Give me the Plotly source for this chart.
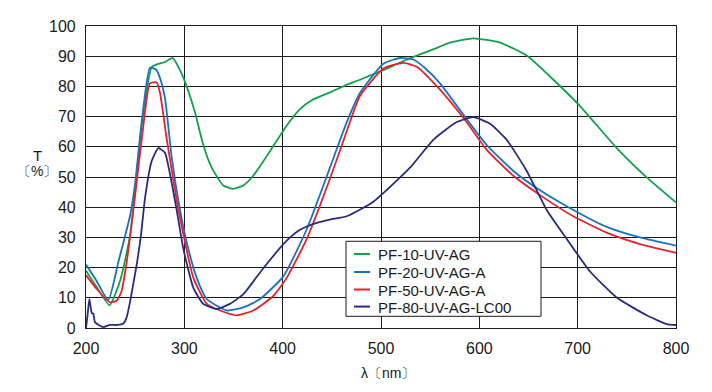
import plotly.graph_objects as go

# Wavelength (nm) and transmittance (%)
green_x = [200, 210, 224, 235, 245, 256.6, 266.8, 273.6, 280, 288.2, 295.6, 302.4, 310.8, 319.3, 327.8, 339.6, 349.8, 360, 370, 387, 404, 417.6, 430, 448, 465, 478.6, 502.4, 520, 536.3, 555, 570.2, 593.9, 621, 648.2, 675.3, 702.4, 739.7, 770.2, 800]
green_y = [19, 14, 7.5, 16, 31, 67, 86.4, 87.5, 88, 89.4, 85.4, 80, 71.4, 60.6, 53.1, 47.2, 46.1, 47.2, 50.4, 58.5, 67, 72.5, 75.5, 78, 80.5, 82.2, 85.4, 88, 90.2, 92.5, 94.5, 95.9, 94.5, 90.2, 82.2, 73.5, 59.6, 49.9, 41.6]

blue_x = [200, 210, 222.7, 233, 244.7, 250, 256.6, 265, 271.2, 275, 280.3, 287.2, 295.6, 302.4, 312.6, 322.8, 343.1, 360, 377, 400.7, 424.5, 448.1, 465, 478.6, 502.4, 519.3, 532.9, 545, 560, 587, 607.5, 634.6, 661.7, 695.6, 729.5, 763.4, 800]
blue_y = [21, 16, 9.3, 22, 37, 48, 68.2, 86.2, 85.6, 83, 76.2, 56.4, 39.1, 28.4, 16.6, 9.6, 5.8, 6.8, 9.6, 17.1, 32.7, 53.1, 68, 77.8, 87.5, 89.4, 88.9, 86, 81, 69.2, 60.6, 52, 45.6, 39.1, 33.5, 30, 27.3]

red_x = [200, 212, 224.4, 231, 236, 241.4, 249.8, 258.3, 265, 271.9, 275.3, 282, 292.2, 300.7, 309.2, 322.8, 336.3, 353.3, 370.2, 390.5, 404.1, 424.5, 448.1, 465, 478.6, 502.4, 522.7, 536.3, 560, 587, 607.5, 634.6, 661.7, 695.6, 729.5, 763.4, 800]
red_y = [17.5, 12.5, 8.5, 9, 12, 21.9, 43.4, 67, 81, 81.3, 77.8, 62.8, 42.4, 28.4, 16.6, 8, 5.8, 4.2, 5.8, 10.6, 16.6, 29.5, 49.4, 65, 76.8, 85.9, 87.8, 86.5, 78.9, 68.2, 59, 50.4, 44, 37, 31.6, 27.8, 24.9]

navy_x = [200, 201.5, 203.4, 205.8, 207.5, 209, 213, 217.6, 224.4, 232, 238, 241.4, 244.7, 251.5, 256, 260, 266.8, 273.6, 280.3, 285.4, 292.2, 299, 309.2, 319.3, 332.9, 346.4, 360, 380.3, 404.1, 417.6, 434.6, 448.1, 465.1, 492.2, 529.5, 553.2, 577, 594, 610.9, 627.9, 648.2, 668.5, 688.9, 712.6, 739.7, 770.2, 790.5, 800]
navy_y = [0, 4, 9.6, 5, 4.7, 2, 1, 0.3, 1, 1, 1.5, 3.6, 8.5, 20.9, 31, 43, 55.3, 59.6, 58, 51, 39.1, 26.2, 13.3, 8, 6.3, 8, 11.2, 19.8, 28.9, 32.5, 34.8, 35.9, 37, 41.8, 53.1, 62.3, 68.2, 69.8, 67.6, 62.3, 52, 39.1, 29.5, 18.7, 10.1, 4.2, 1.3, 1]

series_names = ["PF-10-UV-AG", "PF-20-UV-AG-A", "PF-50-UV-AG-A", "PF-80-UV-AG-LC00"]
series_colors = ["#13a04a", "#1673c4", "#e8202a", "#2c2a80"]
x_ticks = [200, 300, 400, 500, 600, 700, 800]
y_ticks = [0, 10, 20, 30, 40, 50, 60, 70, 80, 90, 100]

FONT = "Liberation Sans, Arial, sans-serif"
INK = "#1a1a1a"

# plot area on screen; the page body adds an 8px offset
OFF = 8
W, H = 712 - OFF, 392 - OFF
PL, PR, PT, PB = 86, 676, 18, 328
def px(x):
    return (x - PL) / (PR - PL)
def py(y):
    return (PB - y) / (PB - PT)

fig = go.Figure()
for name, color, xs, ys in zip(series_names, series_colors,
                               [green_x, blue_x, red_x, navy_x],
                               [green_y, blue_y, red_y, navy_y]):
    fig.add_trace(go.Scatter(x=xs, y=ys, mode="lines", name=name,
                             line=dict(color=color, width=1.8, shape="spline", smoothing=0.5),
                             showlegend=False))

shapes = [dict(type="rect", xref="paper", yref="paper", x0=px(346), x1=px(541), y0=py(316), y1=py(239),
               line=dict(color=INK, width=1), fillcolor="white", layer="above")]
annotations = []
legend_rows = [252, 270.5, 288.5, 306]
for name, color, ry in zip(series_names, series_colors, legend_rows):
    shapes.append(dict(type="line", xref="paper", yref="paper", x0=px(354), x1=px(370), y0=py(ry), y1=py(ry),
                       line=dict(color=color, width=2), layer="above"))
    annotations.append(dict(text=name, xref="paper", yref="paper", x=px(376), y=py(ry + 0.5),
                            xanchor="left", yanchor="middle", showarrow=False,
                            font=dict(size=15, color=INK)))

annotations += [
    dict(text="T", xref="paper", yref="paper", x=px(37), y=py(151),
         showarrow=False, font=dict(size=15), xanchor="center", yanchor="middle"),
    dict(text="〔%〕", xref="paper", yref="paper", x=px(37), y=py(167),
         showarrow=False, font=dict(size=14), xanchor="center", yanchor="middle"),
    dict(text="λ〔nm〕", xref="paper", yref="paper", x=px(388), y=py(374),
         showarrow=False, font=dict(size=14), xanchor="center", yanchor="middle"),
]

fig.update_layout(
    width=W, height=H,
    margin=dict(l=PL - OFF, r=(W + OFF) - PR, t=PT - OFF, b=(H + OFF) - PB),
    paper_bgcolor="white", plot_bgcolor="white",
    font=dict(family=FONT, size=16, color=INK),
    showlegend=False,
    xaxis=dict(range=[200, 800], tickvals=x_ticks, showgrid=True, gridcolor=INK, gridwidth=1.2,
               showline=True, linecolor=INK, linewidth=1.2, mirror=True, ticks="",
               zeroline=False, tickfont=dict(size=16), ticklabelstandoff=6),
    yaxis=dict(range=[0, 100], tickvals=y_ticks, showgrid=True, gridcolor=INK, gridwidth=1.2,
               showline=True, linecolor=INK, linewidth=1.2, mirror=True, ticks="",
               zeroline=False, tickfont=dict(size=16), ticklabelstandoff=6),
    shapes=shapes,
    annotations=annotations,
)

fig.write_html("out.html")
